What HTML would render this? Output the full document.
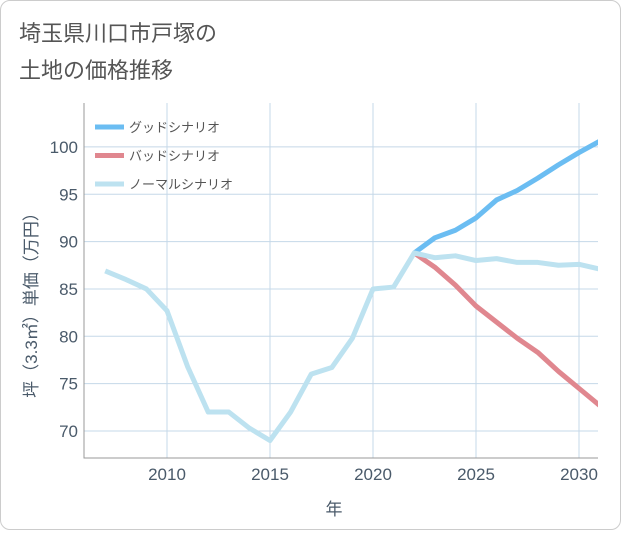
<!DOCTYPE html>
<html><head><meta charset="utf-8"><style>
body{margin:0;background:#fff;font-family:"Liberation Sans","Noto Sans CJK JP",sans-serif;}
#card{position:absolute;left:0;top:0;width:619px;height:528px;border:1px solid #ccc;border-radius:10px;background:#fff;}
</style></head><body>
<div id="card">
<svg id="chart" width="621" height="530">
<text x="18" y="40" font-size="22" fill="#555">埼玉県川口市戸塚の</text>
<text x="18" y="77" font-size="22" fill="#555">土地の価格推移</text>
</svg></div>
<script>
const years=[2007,2008,2009,2010,2011,2012,2013,2014,2015,2016,2017,2018,2019,2020,2021,2022,2023,2024,2025,2026,2027,2028,2029,2030,2031];
const normal=[86.9,86,85,82.7,76.8,72,72,70.3,69,72,76,76.7,79.8,85,85.2,88.8,88.3,88.5,88,88.2,87.8,87.8,87.5,87.6,87.1];
const goodYears=[2022,2023,2024,2025,2026,2027,2028,2029,2030,2031];
const good=[88.8,90.4,91.2,92.5,94.4,95.4,96.7,98.1,99.4,100.6];
const bad=[88.8,87.3,85.4,83.2,81.5,79.8,78.3,76.3,74.5,72.7];
const xTicks=[2010,2015,2020,2025,2030];
const yTicks=[70,75,80,85,90,95,100];
const NS="http://www.w3.org/2000/svg",svg=document.getElementById('chart');
const L=83,R=597,T=102,B=457;
const x=v=>166+(v-2010)*20.6, y=v=>430-(v-70)*9.47;
function mk(t,a){const e=document.createElementNS(NS,t);for(const k in a)e.setAttribute(k,a[k]);svg.appendChild(e);return e;}
xTicks.forEach(t=>{const l=mk('line',{x1:x(t),x2:x(t),y1:T,y2:B,stroke:'#c5d8e8','stroke-width':1});


const s=mk('text',{x:x(t),y:479,'text-anchor':'middle','font-size':17,fill:'#4a5a6a'});s.textContent=t;

});
yTicks.forEach(t=>{const l=mk('line',{x1:L,x2:R,y1:y(t),y2:y(t),stroke:'#c5d8e8','stroke-width':1});


const s=mk('text',{x:77,y:y(t)+6,'text-anchor':'end','font-size':17,fill:'#4a5a6a'});s.textContent=t;

});
const fr=mk('path',{d:`M${L},${T}V${B}H${R}`,fill:'none',stroke:'#999','stroke-width':1});


const clip=mk('clipPath',{id:'c'});clip.appendChild(document.createElementNS(NS,'rect'));
clip.firstChild.setAttribute('x',L);clip.firstChild.setAttribute('y',T);clip.firstChild.setAttribute('width',R-L);clip.firstChild.setAttribute('height',B-T);
function line(xs,vs,c,n){const p=mk('polyline',{points:xs.map((v,i)=>x(v)+','+y(vs[i])).join(' '),fill:'none',stroke:c,'stroke-width':5,'stroke-linejoin':'round','clip-path':'url(#c)'});

}
line(goodYears,good,'#6bbdf2','good-scenario-line');
line(goodYears,bad,'#e0878f','bad-scenario-line');
line(years,normal,'#bde2f0','normal-scenario-line');
const leg=[['グッドシナリオ','#6bbdf2'],['バッドシナリオ','#e0878f'],['ノーマルシナリオ','#bde2f0']];
leg.forEach((d,i)=>{const yy=126+i*28.5;
const l=mk('line',{x1:94,x2:123,y1:yy,y2:yy,stroke:d[1],'stroke-width':5});


const s=mk('text',{x:128,y:yy+5,'font-size':13,fill:'#555'});s.textContent=d[0];

});
const xt=mk('text',{x:333,y:514,'text-anchor':'middle','font-size':17,fill:'#4a5a6a'});xt.textContent='年';


const yt=mk('text',{x:0,y:0,'text-anchor':'middle','font-size':17,fill:'#4a5a6a',transform:'translate(36,300) rotate(-90)'});yt.textContent='坪（3.3㎡）単価（万円）';


</script></body></html>
